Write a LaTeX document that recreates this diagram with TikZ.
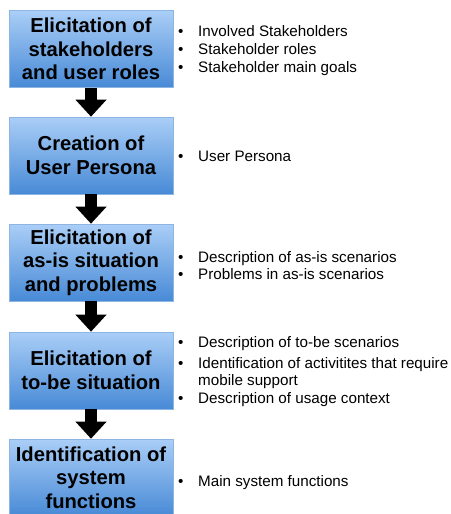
\documentclass[tikz,border=0pt]{standalone}
\usepackage{fontspec}
\setmainfont{Liberation Sans}
\usetikzlibrary{arrows.meta}

\definecolor{stagetop}{RGB}{170,206,247}
\definecolor{stagebottom}{RGB}{72,138,214}
\definecolor{stageline}{RGB}{142,180,226}

\tikzset{
  stage/.style={draw=stageline, line width=0.6pt, top color=stagetop,
    bottom color=stagebottom, minimum width=164pt, minimum height=77pt,
    inner sep=0pt, align=center,
    font=\fontsize{20.2}{23.5}\selectfont\bfseries},
  outcome/.style={anchor=west, inner sep=0pt, align=left, yshift=-2pt,
    font=\fontsize{15.2}{17.7}\selectfont},
  nextstep/.style={line width=12pt, -{Triangle[length=17pt,width=30pt]}}
}

\newcommand{\outitem}{\makebox[20pt][l]{\textbullet}}

\begin{document}
\begin{tikzpicture}[x=1pt,y=-1pt]
    \useasboundingbox (0,0) rectangle (450,514);
    % Process steps, top to bottom
    \foreach \name/\y/\title in {
        s1/49/{Elicitation of\\stakeholders\\and user roles},
        s2/155.5/{Creation of\\User Persona},
        s3/262.5/{Elicitation of\\as-is situation\\and problems},
        s4/370.5/{Elicitation of\\to-be situation},
        s5/477.5/{Identification of\\system\\functions}} {
        \node[stage] (\name) at (91,\y) {\title};
    }
    % Arrows between the steps
    \foreach \a/\b in {s1/s2, s2/s3, s3/s4, s4/s5} {
        \draw[nextstep] (\a.south) -- (\b.north);
    }

    % Results of each step
    \node[outcome] (o1) at (178,49) {\begin{tabular}{@{}l@{}l@{}}
        \outitem & Involved Stakeholders\\
        \outitem & Stakeholder roles\\
        \outitem & Stakeholder main goals
    \end{tabular}};
    \node[outcome] (o2) at (178,156) {\begin{tabular}{@{}l@{}l@{}}
        \outitem & User Persona
    \end{tabular}};
    \node[outcome] (o3) at (178,265.5) {\begin{tabular}{@{}l@{}l@{}}
        \outitem & Description of as-is scenarios\\
        \outitem & Problems in as-is scenarios
    \end{tabular}};
    \node[outcome] (o4) at (178,370) {\begin{tabular}{@{}l@{}l@{}}
        \outitem & Description of to-be scenarios\\[3pt]
        \outitem & Identification of activitites that require\\
                 & mobile support\\
        \outitem & Description of usage context
    \end{tabular}};
    \node[outcome] (o5) at (178,481) {\begin{tabular}{@{}l@{}l@{}}
        \outitem & Main system functions
    \end{tabular}};
\end{tikzpicture}
\end{document}
